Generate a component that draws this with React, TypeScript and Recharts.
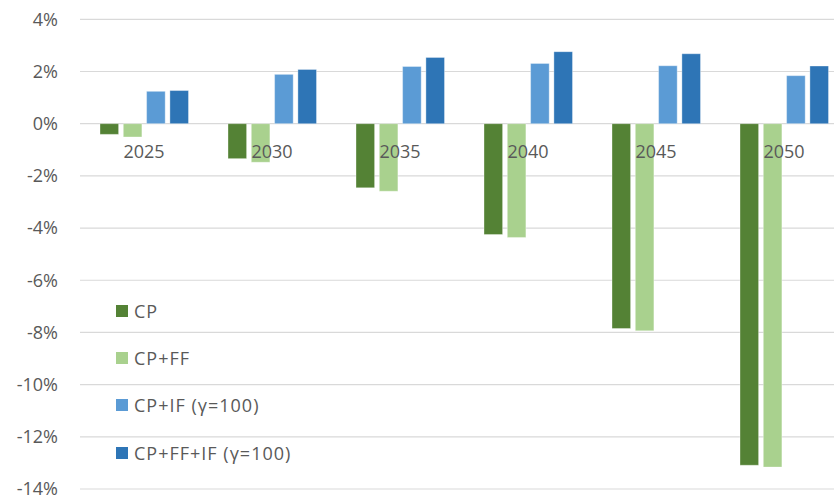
import React from 'react';
import { BarChart, Bar, YAxis, XAxis, CartesianGrid, ReferenceDot, Legend } from 'recharts';

// Change relative to baseline, in percent
const years = ['2025', '2030', '2035', '2040', '2045', '2050'];
const cp = [-0.41, -1.34, -2.46, -4.25, -7.85, -13.09];
const cpFF = [-0.51, -1.48, -2.59, -4.36, -7.94, -13.16];
const cpIF = [1.24, 1.89, 2.19, 2.31, 2.22, 1.84];
const cpFFIF = [1.27, 2.08, 2.54, 2.76, 2.68, 2.21];

const yTicks = [-14, -12, -10, -8, -6, -4, -2, 0, 2, 4];

const seriesKeys = ['cp', 'cpFF', 'cpIF', 'cpFFIF'];
const seriesNames = ['CP', 'CP+FF', 'CP+IF (γ=100)', 'CP+FF+IF (γ=100)'];
const seriesColors = ['#548235', '#A9D18E', '#5B9BD5', '#2E75B6'];

const data = years.map((year, i) => ({
  year,
  cp: cp[i],
  cpFF: cpFF[i],
  cpIF: cpIF[i],
  cpFFIF: cpFFIF[i],
}));

const TEXT = '#595959';
const FONT = '"Open Sans", "Segoe UI", sans-serif';

function LegendBox() {
  return (
    <div style={{ fontFamily: FONT, fontSize: 18, color: TEXT, letterSpacing: 1, textAlign: 'left' }}>
      {seriesNames.map((name, i) => (
        <div key={name} style={{ height: 47.2, display: 'flex', alignItems: 'center' }}>
          <span
            style={{
              display: 'inline-block',
              width: 12,
              height: 12,
              background: seriesColors[i],
              marginRight: 6,
            }}
          />
          <span style={{ whiteSpace: 'nowrap' }}>{name}</span>
        </div>
      ))}
    </div>
  );
}

export default function App() {
  return (
    <div
      style={{
        position: 'absolute',
        left: 0,
        top: 0,
        width: 834,
        height: 498,
        overflow: 'hidden',
        background: '#ffffff',
        fontFamily: FONT,
      }}
    >
      <BarChart
        width={848}
        height={498}
        data={data}
        margin={{ top: 19.3, right: 0, bottom: 9, left: 0 }}
        barSize={18.6}
        barGap={4.7}
      >
        <CartesianGrid vertical={false} stroke="#D9D9D9" strokeWidth={1.2} />
        <XAxis dataKey="year" hide />
        <YAxis
          domain={[-14, 4]}
          ticks={yTicks}
          width={80}
          axisLine={false}
          tickLine={false}
          tickSize={0}
          tickMargin={22}
          tickFormatter={(v: number) => `${v}%`}
          tick={{ fill: TEXT, fontSize: 18 }}
          interval={0}
        />
        {seriesKeys.map((k, i) => (
          <Bar
            key={k}
            dataKey={k}
            name={seriesNames[i]}
            fill={seriesColors[i]}
            stroke="#ffffff"
            strokeOpacity={0.35}
            strokeWidth={1}
            isAnimationActive={false}
          />
        ))}
        {years.map((y) => (
          <ReferenceDot
            key={y}
            x={y}
            y={0}
            r={0}
            fill="none"
            stroke="none"
            ifOverflow="visible"
            label={{ value: y, position: 'bottom', offset: 22, fill: TEXT, fontSize: 18 }}
          />
        ))}
        <Legend
          layout="horizontal"
          align="center"
          verticalAlign="middle"
          wrapperStyle={{ left: 116, top: 287.4, width: 260 }}
          content={() => <LegendBox />}
        />
      </BarChart>
    </div>
  );
}
